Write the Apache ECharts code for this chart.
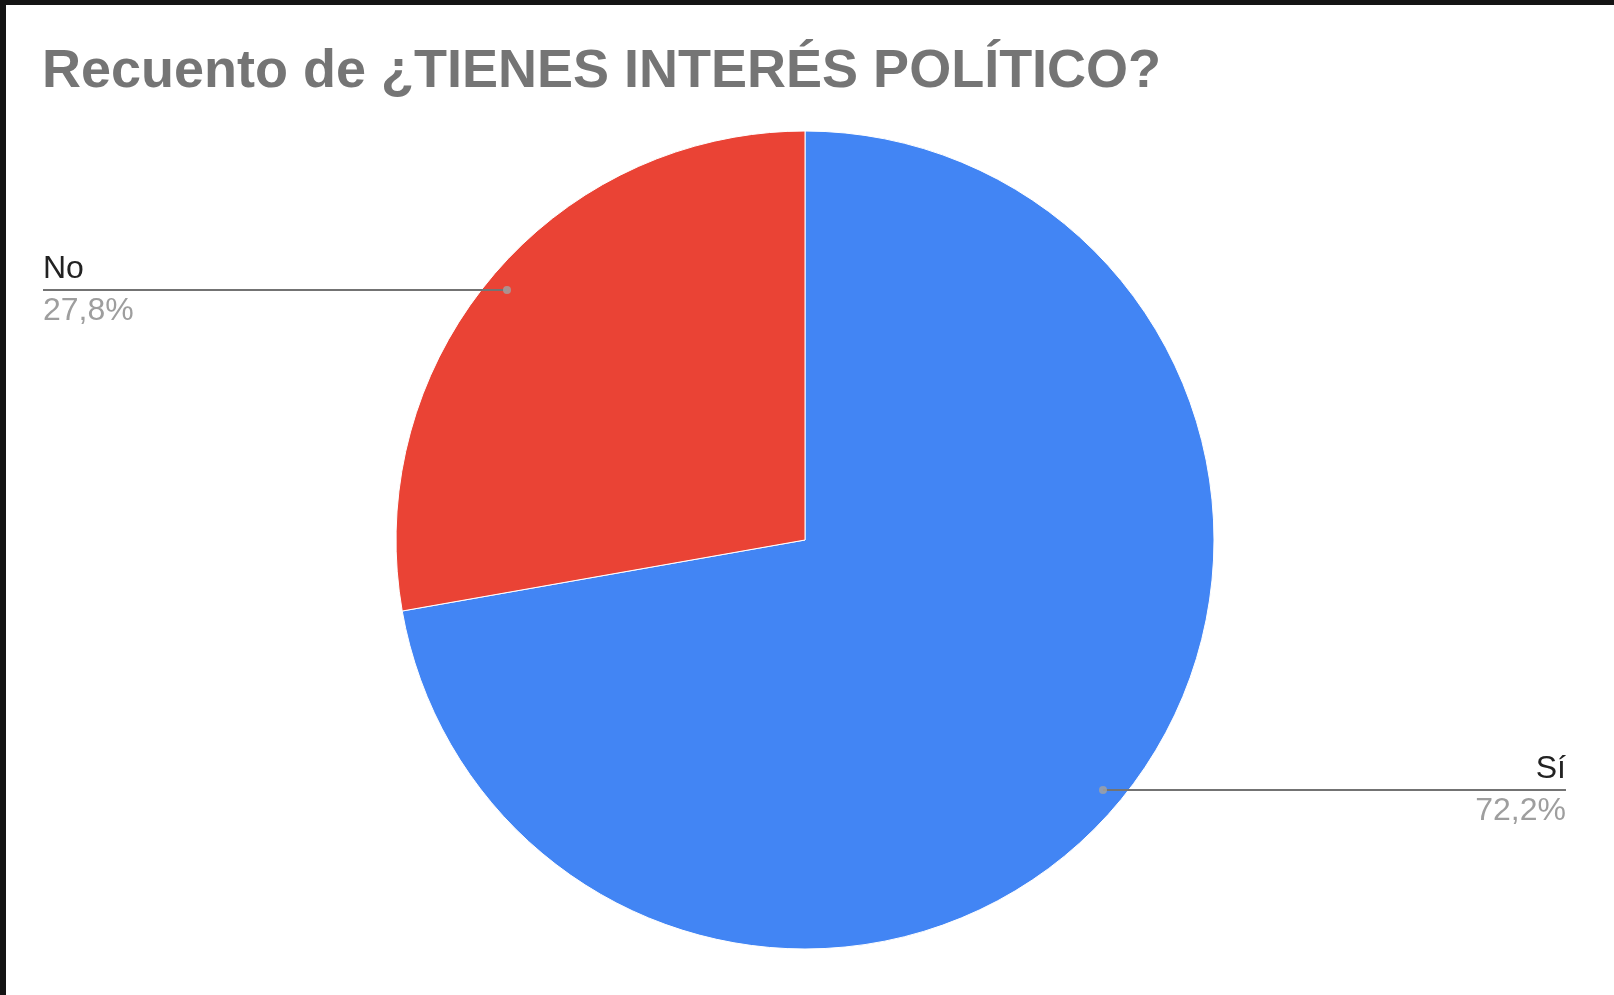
<!DOCTYPE html>
<html>
<head>
<meta charset="utf-8">
<script src="https://cdn.jsdelivr.net/npm/echarts@6/dist/echarts.min.js"></script>
<style>
  html, body { margin: 0; padding: 0; background: #fff; }
  #chart { position: absolute; left: 0; top: 0; width: 1614px; height: 995px; }
  .strip { position: absolute; background: #141414; z-index: 10; }
</style>
</head>
<body>
<div id="chart"></div>
<div class="strip" style="left:0;top:0;width:1614px;height:5px;"></div>
<div class="strip" style="left:0;top:0;width:6px;height:995px;"></div>
<script>
const titleText = 'Recuento de ¿TIENES INTERÉS POLÍTICO?';
const categories = ['Sí', 'No'];
const counts = [13, 5];

const FONT = "'Liberation Sans', Arial, sans-serif";
const CX = 805, CY = 540, R = 409, RLABEL = 389;
const LABEL_FS = 32;
const colors = ['#4285f4', '#ea4335'];
const edgeDist = [48, 43];

const total = counts.reduce((a, b) => a + b, 0);
const pieData = categories.map((c, i) => ({ name: c, value: counts[i] }));

// label anchor dots at each slice's middle angle (polar coords from data)
let cum = 0;
const dotData = counts.map(v => {
  const mid = (cum + v / 2) / total * 360;
  cum += v;
  return [RLABEL / R, mid];
});

const chart = echarts.init(document.getElementById('chart'), null, { renderer: 'canvas' });
chart.setOption({
  backgroundColor: '#ffffff',
  animation: false,
  title: {
    text: titleText,
    left: 42,
    top: 45,
    padding: 0,
    textStyle: { fontFamily: FONT, fontSize: 54, fontWeight: 'bold', color: '#757575' }
  },
  polar: { center: [CX, CY], radius: R },
  angleAxis: { type: 'value', min: 0, max: 360, startAngle: 90, clockwise: true, show: false },
  radiusAxis: { type: 'value', min: 0, max: 1, show: false },
  series: [
    {
      type: 'pie',
      z: 2,
      center: [CX, CY],
      radius: [0, R],
      startAngle: 90,
      clockwise: true,
      silent: true,
      label: { show: false },
      labelLine: { show: false },
      itemStyle: { borderColor: '#ffffff', borderWidth: 1 },
      emphasis: { disabled: true },
      data: pieData.map((d, i) => ({ ...d, itemStyle: { color: colors[i] } }))
    },
    {
      type: 'pie',
      z: 4,
      center: [CX, CY],
      radius: [0, RLABEL],
      startAngle: 90,
      clockwise: true,
      silent: true,
      percentPrecision: 1,
      itemStyle: { color: 'rgba(0,0,0,0)', borderWidth: 0 },
      emphasis: { disabled: true },
      label: {
        show: true,
        position: 'outside',
        alignTo: 'edge',
        distanceToLabelLine: -2.835 * LABEL_FS,
        formatter: p => '{n|' + p.name + '}\n{p|' + p.percent.toFixed(1).replace('.', ',') + '%}',
        rich: {
          n: { fontFamily: FONT, fontSize: LABEL_FS, color: '#222222', lineHeight: 42 },
          p: { fontFamily: FONT, fontSize: LABEL_FS, color: '#9e9e9e', lineHeight: 42 }
        }
      },
      labelLine: {
        show: true,
        length: 0,
        length2: 5,
        lineStyle: { color: '#737373', width: 2 }
      },
      data: pieData.map((d, i) => ({ ...d, label: { edgeDistance: edgeDist[i] } }))
    },
    {
      type: 'scatter',
      coordinateSystem: 'polar',
      z: 6,
      silent: true,
      symbol: 'circle',
      symbolSize: 8,
      itemStyle: { color: '#a3a3a3' },
      data: dotData
    }
  ]
});
</script>
</body>
</html>
